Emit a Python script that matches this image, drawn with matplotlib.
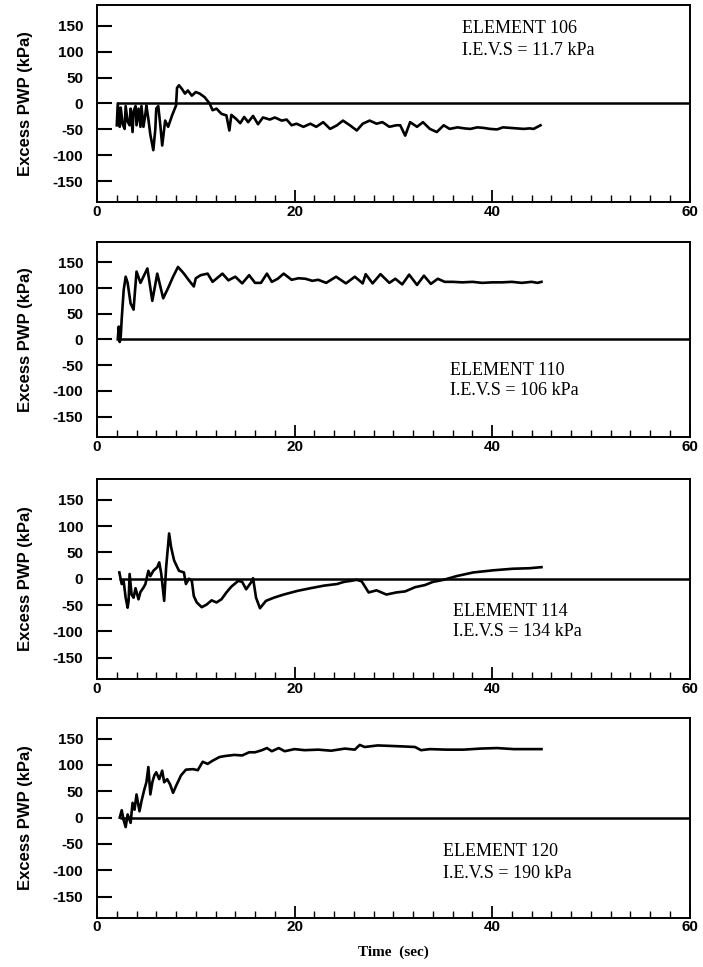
import matplotlib
matplotlib.use('Agg')
import matplotlib.pyplot as plt
from matplotlib.ticker import FixedLocator

plt.rcParams['axes.unicode_minus'] = False

# element 106
t106 = [2.0, 2.1, 2.3, 2.4, 2.6, 2.8, 2.9, 3.1, 3.3, 3.4,
        3.6, 3.7, 3.9, 4.0, 4.2, 4.4, 4.5, 4.7, 4.9, 5.0,
        5.2, 5.4, 5.7, 5.9, 6.0, 6.2, 6.4, 6.6, 6.9, 7.2,
        7.6, 8.0, 8.1, 8.3, 8.6, 8.9, 9.2, 9.6, 10.0, 10.4,
        10.9, 11.4, 11.7, 12.1, 12.6, 13.1, 13.4, 13.6, 14.1, 14.5,
        14.9, 15.3, 15.8, 16.3, 16.8, 17.5, 18.0, 18.7, 19.2, 19.7,
        20.2, 20.9, 21.6, 22.2, 22.9, 23.6, 24.3, 24.9, 25.6, 26.3,
        26.9, 27.6, 28.3, 28.9, 29.6, 30.3, 30.7, 31.2, 31.7, 32.4,
        33.0, 33.7, 34.4, 35.1, 35.7, 36.5, 37.2, 37.8, 38.5, 39.1,
        39.8, 40.5, 41.1, 41.8, 42.5, 43.2, 43.8, 44.2, 44.9]
p106 = [-42, 0, -45, -8, -40, -49, -5, -35, -42, -10,
        -55, -15, -5, -42, -10, -45, -5, -45, -20, -4,
        -30, -60, -90, -50, -10, -5, -40, -81, -33, -45,
        -23, -4, 30, 35, 28, 19, 25, 15, 22, 19,
        12, 0, -13, -10, -20, -23, -52, -22, -30, -38,
        -26, -36, -24, -40, -27, -31, -27, -33, -31, -42,
        -39, -45, -39, -45, -36, -49, -42, -33, -42, -52,
        -39, -33, -39, -36, -45, -42, -42, -62, -36, -45,
        -36, -49, -55, -42, -49, -46, -48, -49, -46, -47,
        -49, -50, -46, -47, -48, -49, -48, -49, -42]

# element 110
t110 = [2.1, 2.2, 2.3, 2.4, 2.5, 2.7, 2.9, 3.1, 3.4, 3.7,
        4.0, 4.4, 4.7, 5.1, 5.6, 6.1, 6.7, 7.2, 7.7, 8.2,
        8.8, 9.3, 9.8, 10.0, 10.5, 11.2, 11.7, 12.2, 12.7, 13.3,
        14.0, 14.7, 15.4, 16.0, 16.6, 17.2, 17.7, 18.3, 18.9, 19.7,
        20.4, 21.1, 21.8, 22.4, 23.2, 24.2, 25.2, 26.1, 26.9, 27.2,
        27.9, 28.7, 29.6, 30.2, 30.9, 31.6, 32.4, 33.1, 33.8, 34.5,
        35.2, 36.0, 37.0, 38.0, 39.0, 40.0, 41.0, 42.0, 43.0, 44.0,
        44.6, 45.0]
p110 = [0, 25, -5, 5, 40, 96, 122, 110, 70, 58,
        132, 110, 122, 138, 75, 128, 80, 100, 122, 141,
        128, 115, 103, 119, 125, 128, 112, 120, 128, 115,
        122, 109, 125, 110, 110, 128, 112, 118, 128, 116,
        119, 118, 114, 116, 110, 122, 109, 122, 109, 127,
        109, 127, 110, 118, 107, 126, 106, 124, 108, 118,
        112, 112, 111, 112, 110, 111, 111, 112, 110, 112,
        110, 112]

# element 114
t114 = [2.26, 2.5, 2.7, 2.9, 3.1, 3.2, 3.3, 3.5, 3.7, 3.9,
        4.2, 4.4, 4.7, 4.9, 5.2, 5.4, 5.7, 6.1, 6.3, 6.5,
        6.8, 7.0, 7.3, 7.5, 7.8, 8.3, 8.8, 9.0, 9.3, 9.6,
        9.8, 10.1, 10.6, 11.1, 11.6, 12.1, 12.6, 13.1, 13.6, 14.3,
        14.7, 15.1, 15.6, 15.8, 16.1, 16.5, 17.1, 17.9, 18.9, 20.3,
        21.6, 23.0, 24.3, 25.0, 25.7, 26.3, 26.8, 27.5, 28.3, 29.3,
        30.3, 31.2, 32.2, 33.2, 34.0, 35.1, 36.4, 38.1, 40.1, 42.1,
        43.8, 45.0]
p114 = [12, -10, -5, -36, -55, -42, 9, -30, -36, -18,
        -39, -25, -17, -10, 15, 5, 15, 22, 31, 10,
        -42, 22, 86, 60, 35, 15, 12, -10, 0, -4,
        -33, -45, -54, -49, -41, -45, -39, -26, -15, -4,
        -6, -20, -7, 1, -36, -56, -42, -36, -30, -23,
        -18, -13, -10, -6, -4, -2, -5, -26, -22, -30,
        -26, -24, -16, -12, -6, -2, 5, 12, 16, 19,
        20, 22]

# element 120
t120 = [2.3, 2.5, 2.7, 2.9, 3.1, 3.4, 3.6, 3.8, 4.0, 4.3,
        4.5, 4.8, 5.0, 5.2, 5.4, 5.6, 5.8, 6.0, 6.3, 6.6,
        6.8, 7.1, 7.4, 7.7, 8.0, 8.5, 9.0, 9.7, 10.2, 10.7,
        11.2, 11.7, 12.4, 13.0, 13.9, 14.7, 15.4, 16.0, 16.7, 17.2,
        17.7, 18.4, 19.0, 20.0, 21.0, 22.4, 23.7, 25.1, 26.1, 26.6,
        27.1, 28.4, 29.8, 31.1, 32.2, 32.8, 33.7, 35.4, 37.1, 38.8,
        40.5, 42.2, 43.8, 45.0]
p120 = [0, 14, -5, -18, 6, -10, 28, 15, 44, 12,
        31, 54, 67, 96, 44, 67, 80, 86, 73, 89,
        67, 73, 63, 47, 60, 80, 91, 92, 90, 106,
        102, 108, 115, 117, 119, 118, 124, 124, 128, 132,
        126, 132, 126, 130, 128, 129, 127, 131, 129, 138,
        134, 137, 136, 135, 134, 128, 130, 129, 129, 131,
        132, 130, 130, 130]

elements = ['ELEMENT 106', 'ELEMENT 110', 'ELEMENT 114', 'ELEMENT 120']
ievs = ['I.E.V.S = 11.7 kPa', 'I.E.V.S = 106 kPa', 'I.E.V.S = 134 kPa', 'I.E.V.S = 190 kPa']
times = [t106, t110, t114, t120]
pwps = [p106, p110, p114, p120]
ytick_vals = [150, 100, 50, 0, -50, -100, -150]
xtick_vals = [0, 20, 40, 60]

# axes boxes (left, bottom, width, height) and text spots
boxes = [(0.138, 0.791, 0.843, 0.204),
         (0.138, 0.548, 0.843, 0.202),
         (0.138, 0.298, 0.843, 0.207),
         (0.138, 0.051, 0.843, 0.207)]
text_pos = [(37.0, 144, 102), (35.7, -60, -100), (36.0, -62, -100), (35.0, -65, -106)]

fig = plt.figure(figsize=(7.03, 9.67), dpi=100)

for i in range(4):
    ax = fig.add_axes(boxes[i])
    ax.plot(times[i], pwps[i], color='black', lw=1.9)
    ax.hlines(0, times[i][0], 60, color='black', lw=1.8)
    ax.set_xlim(0, 60)
    ax.set_ylim(-190, 190)

    ax.set_yticks(ytick_vals)
    ax.set_yticklabels([str(v) for v in ytick_vals], fontfamily='Liberation Sans',
                       fontweight='bold', fontsize=11)
    ax.set_xticks(xtick_vals)
    ax.set_xticklabels([str(v) for v in xtick_vals], fontfamily='Liberation Sans',
                       fontweight='bold', fontsize=11)
    ax.xaxis.set_minor_locator(FixedLocator([v for v in range(2, 60, 2) if v % 20]))
    ax.tick_params(axis='y', direction='in', length=11, width=1.5, pad=10)
    ax.tick_params(axis='x', which='major', direction='in', length=9, width=1.3, pad=2)
    ax.tick_params(axis='x', which='minor', direction='in', length=5, width=1.0)
    for s in ax.spines.values():
        s.set_linewidth(1.4)

    ax.set_ylabel('Excess PWP (kPa)', fontfamily='Liberation Sans', fontweight='bold',
                  fontsize=12, labelpad=14)

    tx, ty1, ty2 = text_pos[i]
    ax.text(tx, ty1, elements[i], fontfamily='Liberation Serif', fontsize=13, va='center')
    ax.text(tx, ty2, ievs[i], fontfamily='Liberation Serif', fontsize=13, va='center')

    if i == 3:
        ax.set_xlabel('Time  (sec)', fontfamily='Liberation Serif', fontweight='bold',
                      fontsize=11, labelpad=8)

fig.savefig('out.png', dpi=100)
